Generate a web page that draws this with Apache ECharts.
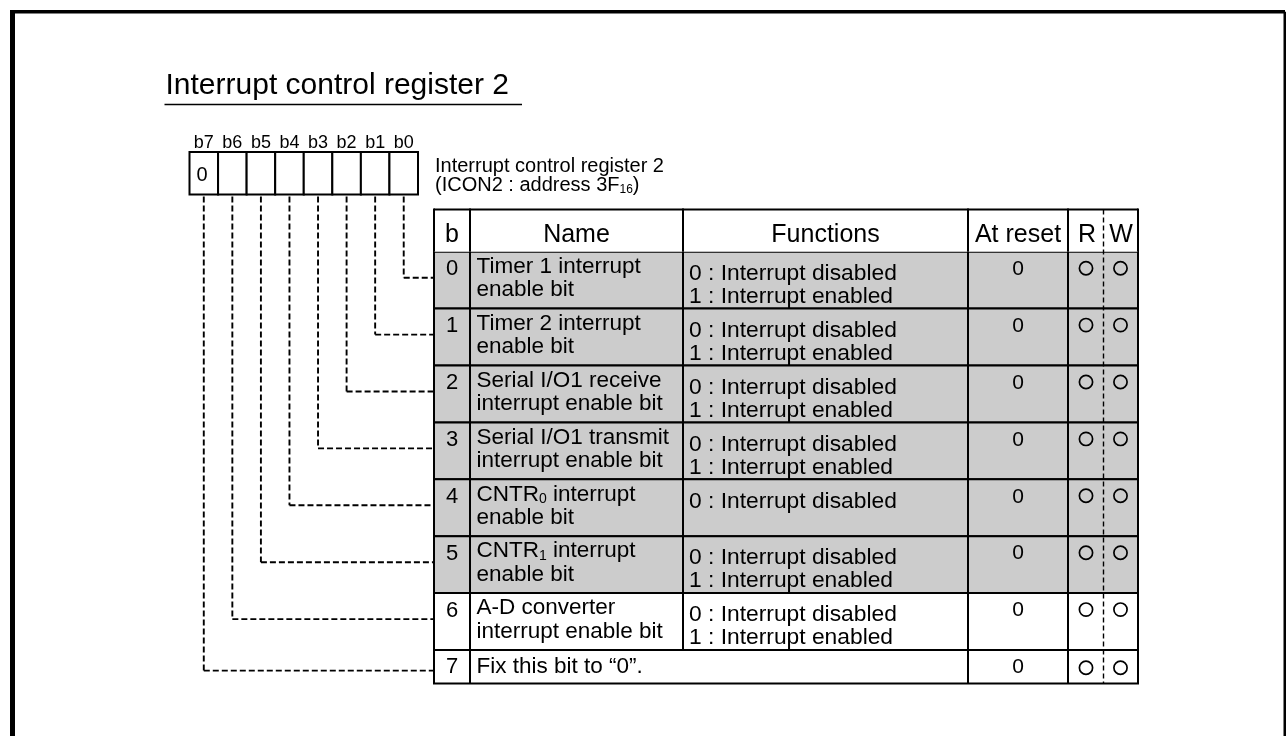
<!DOCTYPE html>
<html>
<head>
<meta charset="utf-8">
<script src="https://cdn.jsdelivr.net/npm/echarts@6/dist/echarts.min.js"></script>
<style>
html,body{margin:0;padding:0;background:#ffffff;}
#chart{width:1286px;height:736px;}
</style>
</head>
<body>
<div id="chart"></div>
<script>
// ---------------- DATA ----------------
const titleText = 'Interrupt control register 2';
const registerCaption = ['Interrupt control register 2', '(ICON2 : address 3F{s|16})'];
const bitLabels = ['b7', 'b6', 'b5', 'b4', 'b3', 'b2', 'b1', 'b0'];
const registerValues = ['0', '', '', '', '', '', '', ''];
const headers = ['b', 'Name', 'Functions', 'At reset', 'R', 'W'];
const rowBits = ['0', '1', '2', '3', '4', '5', '6', '7'];
const rowNames = [
  ['Timer 1 interrupt', 'enable bit'],
  ['Timer 2 interrupt', 'enable bit'],
  ['Serial I/O1 receive', 'interrupt enable bit'],
  ['Serial I/O1 transmit', 'interrupt enable bit'],
  ['CNTR{s|0} interrupt', 'enable bit'],
  ['CNTR{s|1} interrupt', 'enable bit'],
  ['A-D converter', 'interrupt enable bit'],
  ['Fix this bit to \u201c0\u201d.']
];
const rowFunctions = [
  ['0 : Interrupt disabled', '1 : Interrupt enabled'],
  ['0 : Interrupt disabled', '1 : Interrupt enabled'],
  ['0 : Interrupt disabled', '1 : Interrupt enabled'],
  ['0 : Interrupt disabled', '1 : Interrupt enabled'],
  ['0 : Interrupt disabled'],
  ['0 : Interrupt disabled', '1 : Interrupt enabled'],
  ['0 : Interrupt disabled', '1 : Interrupt enabled'],
  []
];
const resetValues = ['0', '0', '0', '0', '0', '0', '0', '0'];
const readable = [1, 1, 1, 1, 1, 1, 1, 1];
const writable = [1, 1, 1, 1, 1, 1, 1, 1];
const shadedRows = [1, 1, 1, 1, 1, 1, 0, 0];

// ---------------- LAYOUT / STYLE ----------------
const FONT = '"Liberation Sans", Arial, Helvetica, sans-serif';
const GRAY = '#cccccc';
const L = {
  frameLeft: 12.5, frameTop: 11.8, frameRight: 1285,
  titleX: 165.5, titleY: 86, titleSize: 30, titleLineY: 104.5, titleLineX2: 522,
  regLeft: 189.5, regRight: 418, regTop: 152, regBottom: 194.5, regLabelY: 143,
  captionX: 435, captionY1: 166.5, captionY2: 185.5,
  cols: [434, 470, 683, 968, 1068, 1138], rwDiv: 1103.5,
  headTop: 209.5, headBottom: 251.7, rowH: 56.9, lastRowH: 33.6,
  nameX: 476.5, funcX: 689
};

function sx(api, x, y) { return api.coord([x, y]); }
function txt(api, x, y, text, size, align, extra) {
  const p = sx(api, x, y);
  const st = Object.assign({
    text: text, fill: '#000', fontFamily: FONT, fontSize: size,
    align: align || 'left', verticalAlign: 'middle',
    rich: {
      s: { fontSize: Math.round(size * 0.62), fontFamily: FONT, fill: '#000', verticalAlign: 'bottom', lineHeight: Math.round(size * 0.62) + 1 }
    }
  }, extra || {});
  return { type: 'text', x: p[0], y: p[1], style: st };
}
function line(api, x1, y1, x2, y2, w, dash) {
  const a = sx(api, x1, y1), b = sx(api, x2, y2);
  return {
    type: 'line', shape: { x1: a[0], y1: a[1], x2: b[0], y2: b[1] },
    style: { stroke: '#000', lineWidth: w, lineDash: dash || null, fill: null }
  };
}
function rect(api, x1, y1, x2, y2, fill, stroke, w) {
  const a = sx(api, x1, y1), b = sx(api, x2, y2);
  return {
    type: 'rect', shape: { x: a[0], y: a[1], width: b[0] - a[0], height: b[1] - a[1] },
    style: { fill: fill || null, stroke: stroke || null, lineWidth: w || 0 }
  };
}
function circle(api, x, y, r) {
  const c = sx(api, x, y);
  return { type: 'circle', shape: { cx: c[0], cy: c[1], r: r }, style: { fill: null, stroke: '#000', lineWidth: 1.7 } };
}
function rowTop(i) { return L.headBottom + i * L.rowH; }
function rowHeight(i) { return i === rowBits.length - 1 ? L.lastRowH : L.rowH; }
const DASH = [6, 3];

// frame + title
function renderFrame(params, api) {
  return {
    type: 'group', children: [
      line(api, L.frameLeft, L.frameTop, L.frameLeft, 740, 5),
      line(api, L.frameLeft - 2.5, L.frameTop, L.frameRight, L.frameTop, 3.6),
      line(api, L.frameRight, L.frameTop, L.frameRight, 740, 3),
      txt(api, L.titleX, L.titleY, titleText, L.titleSize, 'left'),
      line(api, L.titleX - 1, L.titleLineY, L.titleLineX2, L.titleLineY, 1.4),
      txt(api, L.captionX, L.captionY1, registerCaption[0], 20, 'left'),
      txt(api, L.captionX, L.captionY2, registerCaption[1], 20, 'left')
    ]
  };
}

// register bit boxes
function renderRegister(params, api) {
  const i = api.value(0);
  const cw = (L.regRight - L.regLeft) / bitLabels.length;
  const x0 = L.regLeft + i * cw, x1 = x0 + cw, cx = x0 + cw / 2;
  const children = [
    rect(api, x0, L.regTop, x1, L.regBottom, '#fff', '#000', 2),
    txt(api, cx, L.regLabelY, bitLabels[i], 18, 'center')
  ];
  if (registerValues[i]) children.push(txt(api, x0 + 7, (L.regTop + L.regBottom) / 2 + 2, registerValues[i], 20, 'left'));
  return { type: 'group', children: children };
}

// header row
function renderHeader(params, api) {
  const c = L.cols;
  const cy = (L.headTop + L.headBottom) / 2 + 4.5;
  const children = [rect(api, c[0], L.headTop, c[5], L.headBottom, '#fff')];
  const centers = [(c[0] + c[1]) / 2, (c[1] + c[2]) / 2, (c[2] + c[3]) / 2, (c[3] + c[4]) / 2, 1087, 1121];
  headers.forEach(function (h, k) { children.push(txt(api, centers[k], cy, h, 25, 'center')); });
  children.push(line(api, c[0], L.headTop, c[5], L.headTop, 2));
  c.forEach(function (x) { children.push(line(api, x, L.headTop - 1, x, L.headBottom, 2)); });
  return { type: 'group', children: children };
}

// table rows + connectors
function renderRow(params, api) {
  const i = api.value(0);
  const c = L.cols;
  const t = rowTop(i), h = rowHeight(i), b = t + h;
  const last = i === rowBits.length - 1;
  const children = [];
  children.push(rect(api, c[0], t, c[5], b, shadedRows[i] ? GRAY : '#fff'));
  // grid lines
  children.push(line(api, c[0] - 1, t, c[5] + 1, t, 2));
  children.push(line(api, c[0] - 1, b, c[5] + 1, b, 2));
  c.forEach(function (x, k) {
    if (last && k === 2) return;
    children.push(line(api, x, t, x, b, 2));
  });
  // texts
  const oneLine = last;
  const midY = t + h / 2;
  children.push(txt(api, (c[0] + c[1]) / 2, oneLine ? midY : t + 17.5, rowBits[i], 22, 'center'));
  rowNames[i].forEach(function (s, k) {
    children.push(txt(api, L.nameX, oneLine ? midY : t + 15 + k * 23.5, s, 22.5, 'left'));
  });
  rowFunctions[i].forEach(function (s, k) {
    children.push(txt(api, L.funcX, t + 22 + k * 23, s, 22.8, 'left'));
  });
  children.push(txt(api, (c[3] + c[4]) / 2, oneLine ? midY : t + 17.5, resetValues[i], 21, 'center'));
  const cyc = oneLine ? midY + 1 : t + 16.5;
  if (readable[i]) children.push(circle(api, 1086, cyc, 6.6));
  if (writable[i]) children.push(circle(api, 1120.5, cyc, 6.6));
  // connector from register bit to this row
  const bitIdx = bitLabels.length - 1 - i;
  const cw = (L.regRight - L.regLeft) / bitLabels.length;
  const bx = L.regLeft + (bitIdx + 0.5) * cw;
  const cy = t + Math.min(26, h - 13);
  children.push(line(api, bx, L.regBottom + 2, bx, cy, 1.9, DASH));
  children.push(line(api, bx, cy, c[0] - 1, cy, 1.9, DASH));
  return { type: 'group', children: children };
}

function renderRWDivider(params, api) {
  return line(api, L.rwDiv, L.headTop, L.rwDiv, rowTop(rowBits.length - 1) + L.lastRowH, 1.4, [5, 3]);
}

const chart = echarts.init(document.getElementById('chart'), null, { renderer: 'canvas' });
chart.setOption({
  animation: false,
  backgroundColor: '#ffffff',
  grid: { left: 0, right: 0, top: 0, bottom: 0 },
  xAxis: { type: 'value', min: 0, max: 1286, show: false },
  yAxis: { type: 'value', min: 0, max: 736, inverse: true, show: false },
  series: [
    { type: 'custom', name: 'frame', renderItem: renderFrame, data: [[0]], silent: true, clip: false },
    { type: 'custom', name: 'register', renderItem: renderRegister, data: bitLabels.map(function (_, i) { return [i]; }), silent: true, clip: false },
    { type: 'custom', name: 'rows', renderItem: renderRow, data: rowBits.map(function (_, i) { return [i]; }), silent: true, clip: false },
    { type: 'custom', name: 'header', renderItem: renderHeader, data: [[0]], silent: true, clip: false },
    { type: 'custom', name: 'rw', renderItem: renderRWDivider, data: [[0]], silent: true, clip: false }
  ]
});
</script>
</body>
</html>
